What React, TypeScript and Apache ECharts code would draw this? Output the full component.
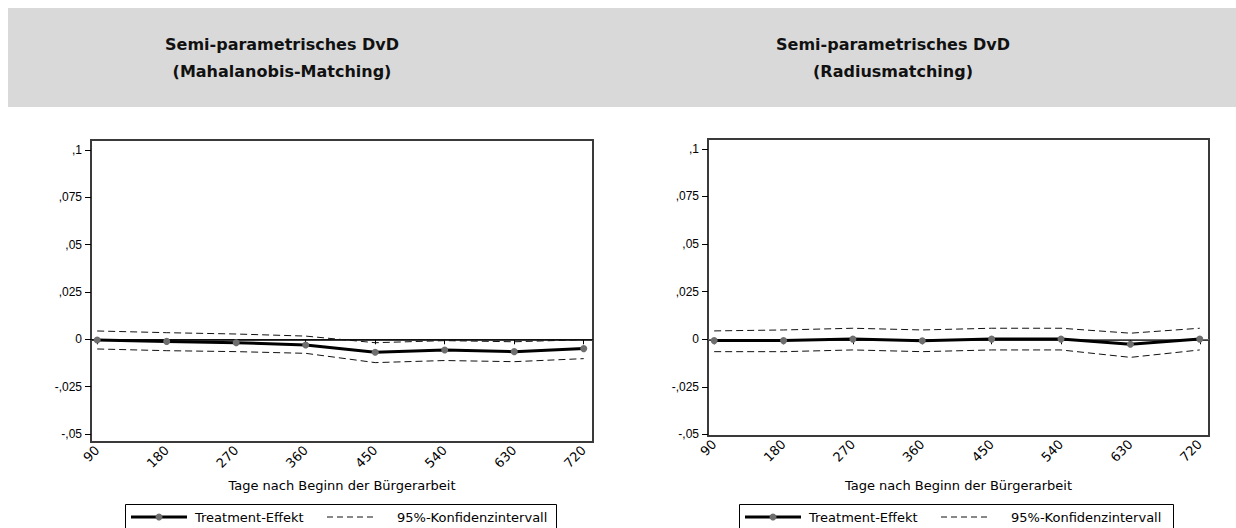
import React, { useEffect, useRef } from "react";
import * as echarts from "echarts";

// Days after start of the programme (x positions of the estimates)
const days = [90, 180, 270, 360, 450, 540, 630, 720];

// Y axis ticks with German decimal notation
const yTicks = [-0.05, -0.025, 0, 0.025, 0.05, 0.075, 0.1];
const yTickLabels = ["-,05", "-,025", "0", ",025", ",05", ",075", ",1"];

// Mahalanobis matching: treatment effect and 95% confidence band
const mahaEffect = [-0.0004, -0.0011, -0.0018, -0.003, -0.0068, -0.0056, -0.0065, -0.0049];
const mahaUpper = [0.0044, 0.0035, 0.0028, 0.0017, -0.0018, -0.0007, -0.0013, -0.0002];
const mahaLower = [-0.0051, -0.006, -0.0065, -0.0074, -0.0123, -0.0112, -0.0118, -0.0102];

// Radius matching: treatment effect and 95% confidence band
const radiusEffect = [-0.0007, -0.0007, 0.0001, -0.0008, 0.0001, 0.0001, -0.0026, 0.0001];
const radiusUpper = [0.0044, 0.0049, 0.0058, 0.0049, 0.0058, 0.0058, 0.0032, 0.0058];
const radiusLower = [-0.0065, -0.0065, -0.0056, -0.0065, -0.0056, -0.0056, -0.0095, -0.0056];

const panelTitles = [
  "Semi-parametrisches DvD\n(Mahalanobis-Matching)",
  "Semi-parametrisches DvD\n(Radiusmatching)",
];
const xTitle = "Tage nach Beginn der Bürgerarbeit";
const effectName = "Treatment-Effekt";
const ciName = "95%-Konfidenzintervall";

const FONT = "'DejaVu Sans', Verdana, sans-serif";
const MARKER = "#6e6e6e";

const pairs = (ys: number[]) => days.map((d, i) => [d, ys[i]]);

function yLabel(v: number): string {
  let best = 0;
  for (let i = 1; i < yTicks.length; i++) {
    if (Math.abs(yTicks[i] - v) < Math.abs(yTicks[best] - v)) best = i;
  }
  return yTickLabels[best];
}

// Boxed key below each panel: solid line with dot, then dashed line
function legendBox(left: number, width: number) {
  const cy = 517;
  return {
    type: "group",
    silent: true,
    children: [
      {
        type: "rect",
        shape: { x: left + 0.5, y: 504.5, width, height: 40 },
        style: { fill: "#fff", stroke: "#000", lineWidth: 1 },
      },
      {
        type: "line",
        shape: { x1: left + 6, y1: cy, x2: left + 62, y2: cy },
        style: { stroke: "#000", lineWidth: 3 },
      },
      {
        type: "circle",
        shape: { cx: left + 34, cy, r: 3.5 },
        style: { fill: MARKER },
      },
      {
        type: "text",
        x: left + 70,
        y: cy,
        style: {
          text: effectName,
          fill: "#000",
          font: `13px ${FONT}`,
          verticalAlign: "middle",
        },
      },
      {
        type: "line",
        shape: { x1: left + 202, y1: cy, x2: left + 250, y2: cy },
        style: { stroke: "#111", lineWidth: 1, lineDash: [6, 4] },
      },
      {
        type: "text",
        x: left + 272,
        y: cy,
        style: {
          text: ciName,
          fill: "#000",
          font: `13px ${FONT}`,
          verticalAlign: "middle",
        },
      },
    ],
  };
}

function buildOption(): echarts.EChartsOption {
  const grids = [
    { left: 91, top: 140, width: 502, height: 302, yMin: -0.0542, zero: "#111", nameGap: 37 },
    { left: 708, top: 139, width: 501, height: 297, yMin: -0.0508, zero: "#6a6a6a", nameGap: 43 },
  ];
  const panels = [
    { effect: mahaEffect, upper: mahaUpper, lower: mahaLower },
    { effect: radiusEffect, upper: radiusUpper, lower: radiusLower },
  ];

  const frame = "#3a3a3a";

  const series: any[] = [];
  panels.forEach((p, i) => {
    const ci = {
      type: "line",
      name: ciName,
      xAxisIndex: i,
      yAxisIndex: i,
      symbol: "none",
      lineStyle: { color: "#111", width: 1, type: [7, 4] },
      z: 2,
    };
    series.push({ ...ci, data: pairs(p.upper) });
    series.push({ ...ci, data: pairs(p.lower) });
    series.push({
      type: "line",
      name: effectName,
      xAxisIndex: i,
      yAxisIndex: i,
      data: pairs(p.effect),
      symbol: "circle",
      symbolSize: 7,
      itemStyle: { color: MARKER },
      lineStyle: { color: "#000", width: 3 },
      z: 4,
      markLine: {
        silent: true,
        symbol: "none",
        label: { show: false },
        lineStyle: { color: grids[i].zero, width: 1, type: "solid" },
        data: [{ yAxis: 0 }],
        z: 3,
      },
    });
  });

  return {
    animation: false,
    backgroundColor: "#fff",
    graphic: [
      {
        type: "rect",
        shape: { x: 8, y: 8, width: 1228, height: 99 },
        style: { fill: "#d9d9d9" },
        silent: true,
      },
      ...panelTitles.map((t, i) => ({
        type: "text",
        x: i === 0 ? 282 : 893,
        y: 31,
        style: {
          text: t,
          fill: "#111",
          font: "bold 16px 'DejaVu Sans', Verdana, sans-serif",
          textAlign: "center",
          lineHeight: 27,
        },
        silent: true,
      })),
      legendBox(125, 431),
      legendBox(739, 434),
    ],
    grid: grids.map((g) => ({
      left: g.left,
      top: g.top,
      width: g.width,
      height: g.height,
      show: true,
      borderColor: frame,
      borderWidth: 2,
      backgroundColor: "#fff",
    })),
    xAxis: grids.map((g, i) => ({
      type: "value",
      gridIndex: i,
      min: 82,
      max: 732,
      axisLine: { show: true, lineStyle: { color: frame, width: 2 } },
      axisTick: {
        show: true,
        inside: false,
        customValues: days,
        length: 5,
        lineStyle: { color: "#000", width: 1 },
      },
      axisLabel: {
        customValues: days,
        rotate: 45,
        margin: 6,
        color: "#000",
        fontSize: 13,
        fontFamily: FONT,
      },
      splitLine: { show: false },
      name: xTitle,
      nameLocation: "middle",
      nameGap: g.nameGap,
      nameTextStyle: { color: "#000", fontSize: 13, fontFamily: FONT },
    })),
    yAxis: grids.map((g, i) => ({
      type: "value",
      gridIndex: i,
      min: g.yMin,
      max: 0.1052,
      axisLine: { show: true, lineStyle: { color: frame, width: 2 } },
      axisTick: {
        show: true,
        inside: false,
        customValues: yTicks,
        length: 6,
        lineStyle: { color: "#000", width: 1 },
      },
      axisLabel: {
        customValues: yTicks,
        formatter: (v: number) => yLabel(v),
        margin: 9,
        color: "#000",
        fontSize: 12,
        fontFamily: "'Liberation Sans', Arial, sans-serif",
      },
      splitLine: { show: false },
    })),
    series,
  } as echarts.EChartsOption;
}

export default function App() {
  const ref = useRef<HTMLDivElement>(null);

  useEffect(() => {
    document.body.style.margin = "0";
    if (!ref.current) return;
    const chart = echarts.init(ref.current, undefined, { renderer: "svg" });
    chart.setOption(buildOption());
    return () => chart.dispose();
  }, []);

  return <div ref={ref} style={{ width: 1236, height: 528 }} />;
}
